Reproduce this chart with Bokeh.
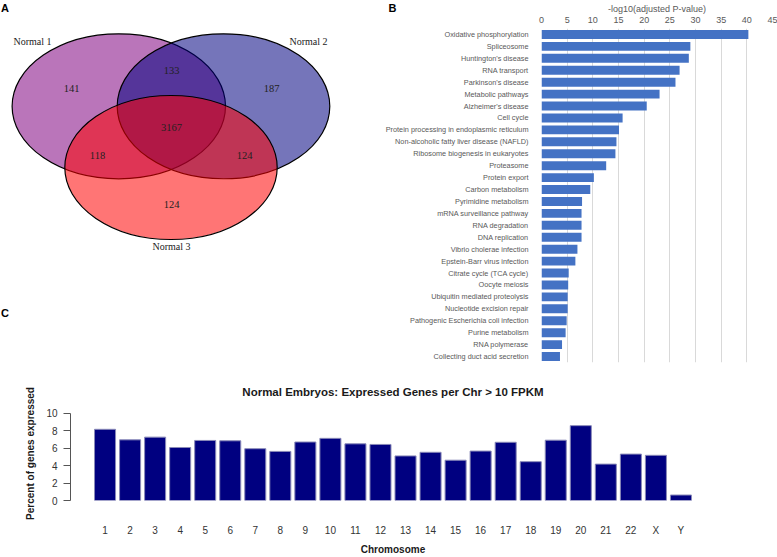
from bokeh.plotting import figure
from bokeh.models import Range1d, FactorRange, FixedTicker
from bokeh.layouts import column, row
from bokeh.embed import file_html
from bokeh.resources import INLINE
from bokeh.core.properties import value

# ---------------- Panel A data (Venn) ----------------
set_names = ["Normal 1", "Normal 2", "Normal 3"]
set_colors = ["#800080", "#000080", "#ff0000"]
region_names = ["N1 only", "N1&N2", "N2 only", "N1&N2&N3", "N1&N3", "N2&N3", "N3 only"]
region_counts = [141, 133, 187, 3167, 118, 124, 124]
panel_letters = ["A", "B", "C"]

# ---------------- Panel B data ----------------
pathways = [
    "Oxidative phosphorylation", "Spliceosome", "Huntington's disease", "RNA transport",
    "Parkinson's disease", "Metabolic pathways", "Alzheimer's disease", "Cell cycle",
    "Protein processing in endoplasmic reticulum", "Non-alcoholic fatty liver disease (NAFLD)",
    "Ribosome biogenesis in eukaryotes", "Proteasome", "Protein export", "Carbon metabolism",
    "Pyrimidine metabolism", "mRNA surveillance pathway", "RNA degradation", "DNA replication",
    "Vibrio cholerae infection", "Epstein-Barr virus infection", "Citrate cycle (TCA cycle)",
    "Oocyte meiosis", "Ubiquitin mediated proteolysis", "Nucleotide excision repair",
    "Pathogenic Escherichia coli infection", "Purine metabolism", "RNA polymerase",
    "Collecting duct acid secretion",
]
neglog10_padj = [40.3, 29.0, 28.7, 26.9, 26.1, 23.0, 20.5, 15.8, 15.1, 14.6, 14.4, 12.6, 10.2, 9.5,
                 7.9, 7.8, 7.8, 7.8, 7.0, 6.6, 5.3, 5.2, 5.1, 5.1, 4.9, 4.7, 4.0, 3.6]
b_ticks = [0, 5, 10, 15, 20, 25, 30, 35, 40, 45]
b_axis_title = "-log10(adjusted P-value)"

# ---------------- Panel C data ----------------
chromosomes = ["1", "2", "3", "4", "5", "6", "7", "8", "9", "10", "11", "12", "13", "14",
               "15", "16", "17", "18", "19", "20", "21", "22", "X", "Y"]
pct_expressed = [8.18, 6.97, 7.28, 6.09, 6.90, 6.86, 5.95, 5.64, 6.72, 7.14, 6.51, 6.44,
                 5.12, 5.54, 4.63, 5.68, 6.69, 4.46, 6.93, 8.60, 4.18, 5.33, 5.19, 0.63]
c_ticks = [0, 2, 4, 6, 8, 10]
c_title = "Normal Embryos: Expressed Genes per Chr > 10 FPKM"

SANS = "Liberation Sans"
SERIF = "Liberation Serif"

# ---------------- Panel A (also carries the panel letters) ----------------
ell_x = [118.3, 223.0, 170.5]
ell_y = [105.8, 105.8, 167.0]
ell_w = [213.4, 212.6, 212.4]
ell_h = [145.0, 145.0, 144.0]
set_lab_x = [32, 308, 171]
set_lab_y = [41, 41, 246]
reg_x = [71, 171, 271, 171, 97, 244, 171]
reg_y = [88, 70, 88, 127, 155, 155, 204]
letter_x = [0.5, 388, 0.5]
letter_y = [1.5, 1.2, 306.5]

pA = figure(width=397, height=372, x_range=Range1d(0, 397), y_range=Range1d(372, 0),
            output_backend="svg", toolbar_location=None, min_border=0)
pA.frame_align = False
pA.axis.visible = False
pA.grid.visible = False
pA.outline_line_color = None
pA.ellipse(x=ell_x, y=ell_y, width=ell_w, height=ell_h, fill_color=set_colors,
           fill_alpha=0.54, line_color="black", line_width=1.2)
pA.text(x=set_lab_x, y=set_lab_y, text=set_names, text_font=value(SERIF),
        text_font_size="10px", text_align="center", text_baseline="middle", text_color="#222222")
pA.text(x=reg_x, y=reg_y, text=[str(c) for c in region_counts], text_font=value(SERIF),
        text_font_size="10.5px", text_align="center", text_baseline="middle", text_color="#222222")
pA.text(x=letter_x, y=letter_y, text=panel_letters, text_font=value(SANS), text_font_style="bold",
        text_font_size="11px", text_align="left", text_baseline="top", text_color="black")

# ---------------- Panel B ----------------
pB = figure(width=397, height=372, y_range=FactorRange(factors=pathways[::-1]),
            x_range=Range1d(0, 45), x_axis_location="above",
            output_backend="svg", toolbar_location=None,
            min_border_left=161, min_border_right=5, min_border_top=24, min_border_bottom=10)
pB.frame_align = False
pB.margin = (0, 0, 0, -17)
pB.border_fill_color = None
pB.background_fill_color = None
pB.hbar(y=pathways, right=neglog10_padj, height=0.75, fill_color="#4472C4", line_color=None)
pB.xaxis.ticker = FixedTicker(ticks=b_ticks)
pB.xaxis.axis_label = b_axis_title
pB.xaxis.axis_label_text_font = SANS
pB.xaxis.axis_label_text_font_style = "normal"
pB.xaxis.axis_label_text_font_size = "9px"
pB.xaxis.axis_label_text_color = "#595959"
pB.xaxis.axis_label_standoff = 0
pB.xaxis.major_label_text_font = SANS
pB.xaxis.major_label_text_font_size = "9px"
pB.xaxis.major_label_text_color = "#595959"
pB.xaxis.major_label_standoff = 0
pB.xaxis.axis_line_color = None
pB.xaxis.major_tick_line_color = None
pB.xaxis.minor_tick_line_color = None
pB.yaxis.axis_line_color = None
pB.yaxis.major_tick_line_color = None
pB.yaxis.major_label_text_font = SANS
pB.yaxis.major_label_text_font_size = "7.3px"
pB.yaxis.major_label_text_color = "#595959"
pB.yaxis.major_label_standoff = 7
pB.ygrid.grid_line_color = None
pB.xgrid.grid_line_color = "#d9d9d9"
pB.outline_line_color = None

# ---------------- Panel C ----------------
pC = figure(width=777, height=185,
            x_range=FactorRange(factors=chromosomes, range_padding=0.0733),
            y_range=Range1d(0, 10.8),
            title=c_title,
            output_backend="svg", toolbar_location=None,
            min_border_left=70, min_border_right=62, min_border_top=34, min_border_bottom=47)
pC.frame_align = False
pC.vbar(x=chromosomes, top=pct_expressed, width=0.84, fill_color="#000080",
        line_color="#8a8ab8", line_width=1)
pC.title.align = "center"
pC.title.text_font = SANS
pC.title.text_font_style = "bold"
pC.title.text_font_size = "11.5px"
pC.title.text_color = "#1a1a1a"
pC.title.standoff = 18
pC.yaxis.ticker = FixedTicker(ticks=c_ticks)
pC.yaxis.bounds = (0, 10)
pC.yaxis.axis_label = "Percent of genes expressed"
pC.yaxis.axis_label_text_font = SANS
pC.yaxis.axis_label_text_font_style = "bold"
pC.yaxis.axis_label_text_font_size = "10px"
pC.yaxis.axis_label_text_color = "#1a1a1a"
pC.yaxis.axis_label_standoff = 7
pC.yaxis.major_label_text_font = SANS
pC.yaxis.major_label_text_font_size = "10px"
pC.yaxis.major_label_text_color = "#333333"
pC.yaxis.major_label_orientation = "horizontal"
pC.yaxis.axis_line_color = "#555555"
pC.yaxis.major_tick_line_color = "#555555"
pC.yaxis.major_tick_out = 7
pC.yaxis.major_tick_in = 0
pC.yaxis.minor_tick_line_color = None
pC.yaxis.major_label_standoff = 6
pC.xaxis.axis_label = "Chromosome"
pC.xaxis.axis_label_text_font = SANS
pC.xaxis.axis_label_text_font_style = "bold"
pC.xaxis.axis_label_text_font_size = "10px"
pC.xaxis.axis_label_text_color = "#1a1a1a"
pC.xaxis.axis_label_standoff = 5
pC.xaxis.major_label_text_font = SANS
pC.xaxis.major_label_text_font_size = "10px"
pC.xaxis.major_label_text_color = "#333333"
pC.xaxis.major_label_standoff = 18
pC.xaxis.axis_line_color = None
pC.xaxis.major_tick_line_color = None
pC.grid.grid_line_color = None
pC.outline_line_color = None

layout = column(row(pA, pB), pC)
open("out.html", "w").write(file_html(layout, INLINE))
